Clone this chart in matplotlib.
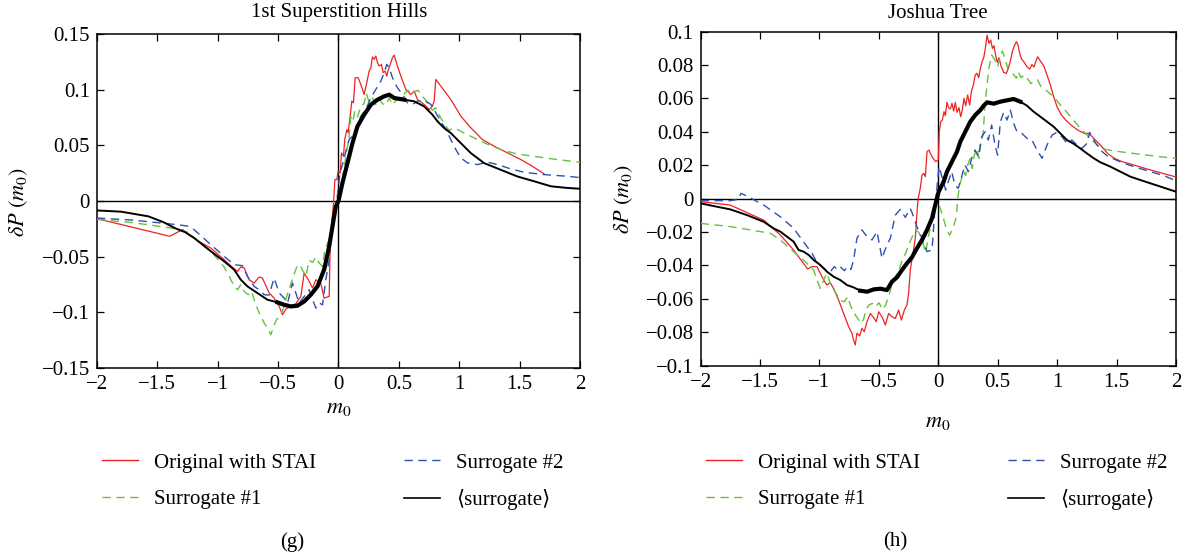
import numpy as np
import matplotlib
matplotlib.use("Agg")
import matplotlib.pyplot as plt
from matplotlib.ticker import FuncFormatter, MultipleLocator
from matplotlib.lines import Line2D

# ------------------------------
# Data (m0, deltaP)
# ------------------------------
# (g) 1st Superstition Hills
g_red = [(-2.0, -0.0159), (-1.397, -0.0317), (-1.292, -0.0257), (-1.157, -0.0362), (-1.057, -0.0423),
         (-0.947, -0.0527), (-0.864, -0.061), (-0.836, -0.0632), (-0.809, -0.0593), (-0.781, -0.0602),
         (-0.74, -0.0707), (-0.699, -0.0737), (-0.657, -0.0683), (-0.63, -0.0692), (-0.574, -0.0827),
         (-0.533, -0.0872), (-0.491, -0.0947), (-0.464, -0.1022), (-0.436, -0.0971), (-0.395, -0.0941),
         (-0.353, -0.0923), (-0.312, -0.0857), (-0.284, -0.0647), (-0.25, -0.0707), (-0.215, -0.0782),
         (-0.187, -0.0707), (-0.146, -0.0743), (-0.119, -0.0872), (-0.077, -0.0857), (-0.069, -0.0407),
         (-0.058, -0.0213), (-0.041, -0.0018), (-0.03, 0.0192), (-0.014, 0.0192), (-0.003, 0.0267),
         (0.014, 0.0252), (0.025, 0.0432), (0.041, 0.0402), (0.052, 0.0552), (0.069, 0.0642),
         (0.08, 0.0612), (0.097, 0.0762), (0.11, 0.0897), (0.124, 0.0882), (0.138, 0.1107),
         (0.163, 0.1107), (0.185, 0.1047), (0.212, 0.0957), (0.234, 0.1062), (0.254, 0.1167),
         (0.268, 0.1197), (0.281, 0.1294), (0.295, 0.1272), (0.309, 0.1302), (0.323, 0.1242),
         (0.337, 0.1212), (0.356, 0.1227), (0.37, 0.1152), (0.386, 0.1167), (0.4, 0.1122),
         (0.414, 0.1182), (0.433, 0.1242), (0.447, 0.1287), (0.461, 0.131), (0.488, 0.1212),
         (0.521, 0.1107), (0.558, 0.1002), (0.599, 0.0957), (0.627, 0.0987), (0.654, 0.0912),
         (0.709, 0.0867), (0.751, 0.0822), (0.778, 0.0852), (0.792, 0.0897), (0.806, 0.1092),
         (0.847, 0.1032), (0.93, 0.0912), (1.013, 0.0762), (1.096, 0.0657), (1.192, 0.0552),
         (1.289, 0.0492), (1.40, 0.0432), (1.51, 0.0372), (1.606, 0.0312), (1.703, 0.0243)]

g_green = [(-2.0, -0.0165), (-1.7, -0.0195), (-1.4, -0.024), (-1.25, -0.028), (-1.112, -0.0407),
           (-1.057, -0.0452), (-1.002, -0.0521), (-0.947, -0.0593), (-0.905, -0.0677), (-0.864, -0.0767),
           (-0.836, -0.0797), (-0.809, -0.0752), (-0.781, -0.0812), (-0.748, -0.0842), (-0.72, -0.0812),
           (-0.685, -0.0932), (-0.65, -0.1022), (-0.615, -0.1097), (-0.588, -0.1142), (-0.56, -0.1201),
           (-0.538, -0.1127), (-0.511, -0.1061), (-0.484, -0.1043), (-0.456, -0.0962), (-0.429, -0.0857),
           (-0.401, -0.0767), (-0.374, -0.0677), (-0.346, -0.0593), (-0.319, -0.0572), (-0.297, -0.0623),
           (-0.27, -0.0677), (-0.243, -0.0533), (-0.215, -0.0551), (-0.187, -0.0503), (-0.16, -0.0557),
           (-0.132, -0.0587), (-0.113, -0.0437), (-0.077, -0.0347), (-0.05, -0.0228), (-0.022, -0.0093),
           (0.006, 0.0027), (0.019, 0.0102), (0.047, 0.0296), (0.069, 0.0462), (0.085, 0.0552),
           (0.102, 0.0755), (0.119, 0.0716), (0.135, 0.0806), (0.157, 0.0755), (0.185, 0.0851),
           (0.212, 0.0875), (0.229, 0.097), (0.254, 0.0887), (0.281, 0.0926), (0.309, 0.0866),
           (0.337, 0.0917), (0.364, 0.0875), (0.392, 0.086), (0.42, 0.0926), (0.447, 0.0866),
           (0.483, 0.0911), (0.516, 0.0917), (0.549, 0.097), (0.577, 0.0994), (0.605, 0.0955),
           (0.632, 0.0985), (0.66, 0.0994), (0.687, 0.0946), (0.715, 0.0917), (0.751, 0.0851),
           (0.778, 0.0815), (0.806, 0.0836), (0.847, 0.0746), (0.889, 0.0671), (0.916, 0.0635),
           (0.958, 0.0656), (1.013, 0.0626), (1.096, 0.0581), (1.179, 0.0536), (1.262, 0.0497),
           (1.372, 0.0452), (1.482, 0.0422), (1.62, 0.0401), (1.759, 0.038), (2.0, 0.0347)]

g_blue = [(-2.0, -0.0153), (-1.7, -0.0172), (-1.45, -0.02), (-1.333, -0.0213), (-1.25, -0.0225),
          (-1.195, -0.0258), (-1.057, -0.0393), (-0.947, -0.0497), (-0.864, -0.0572), (-0.795, -0.0581),
          (-0.754, -0.0677), (-0.699, -0.0767), (-0.657, -0.0797), (-0.615, -0.0842), (-0.575, -0.0845),
          (-0.533, -0.0692), (-0.491, -0.0827), (-0.45, -0.0872), (-0.422, -0.0917), (-0.381, -0.0737),
          (-0.353, -0.0827), (-0.326, -0.0917), (-0.284, -0.0857), (-0.243, -0.0797), (-0.215, -0.0887),
          (-0.187, -0.0962), (-0.16, -0.0917), (-0.132, -0.0932), (-0.105, -0.0707), (-0.077, -0.0527),
          (-0.058, -0.0258), (-0.036, -0.0108), (-0.014, 0.0012), (0.0, 0.0132), (0.012, 0.0252),
          (0.033, 0.0327), (0.061, 0.0447), (0.088, 0.0552), (0.116, 0.0582), (0.143, 0.0648),
          (0.185, 0.0762), (0.226, 0.0822), (0.268, 0.0927), (0.309, 0.1002), (0.351, 0.1077),
          (0.378, 0.1152), (0.40, 0.1227), (0.42, 0.1197), (0.447, 0.1107), (0.488, 0.1017),
          (0.53, 0.0957), (0.571, 0.0882), (0.613, 0.0867), (0.654, 0.0897), (0.709, 0.0906),
          (0.765, 0.0867), (0.806, 0.0792), (0.847, 0.0717), (0.889, 0.0642), (0.93, 0.0552),
          (0.972, 0.0462), (1.013, 0.0387), (1.068, 0.0342), (1.151, 0.0327), (1.234, 0.0349),
          (1.317, 0.0327), (1.427, 0.0288), (1.537, 0.0258), (1.703, 0.0237), (1.896, 0.0222),
          (2.0, 0.021)]

g_black = [(-2.0, -0.0085), (-1.8, -0.0096), (-1.574, -0.0138), (-1.446, -0.0192), (-1.35, -0.0246),
           (-1.27, -0.028), (-1.195, -0.0333), (-1.057, -0.0452), (-0.947, -0.0542), (-0.864, -0.0617),
           (-0.809, -0.0707), (-0.754, -0.0767), (-0.671, -0.0827), (-0.588, -0.0887), (-0.505, -0.0911),
           (-0.45, -0.0932), (-0.395, -0.0947), (-0.34, -0.0941), (-0.284, -0.0902), (-0.229, -0.0842),
           (-0.174, -0.0767), (-0.119, -0.0617), (-0.077, -0.0407), (-0.05, -0.0228), (-0.022, -0.0048),
           (0.0, 0.0002), (0.033, 0.0163), (0.0745, 0.0341), (0.116, 0.0521), (0.157, 0.067),
           (0.2125, 0.0775), (0.268, 0.0865), (0.323, 0.091), (0.378, 0.094), (0.42, 0.0955),
           (0.461, 0.0925), (0.544, 0.091), (0.627, 0.0895), (0.709, 0.085), (0.778, 0.0775),
           (0.82, 0.0715), (0.875, 0.0655), (0.93, 0.061), (1.013, 0.052), (1.096, 0.043),
           (1.206, 0.034), (1.344, 0.028), (1.482, 0.022), (1.62, 0.0177), (1.759, 0.0132),
           (1.896, 0.0117), (2.0, 0.011)]

# (h) Joshua Tree
h_red = [(-2.0, -0.0018), (-1.751, -0.0038), (-1.47, -0.0128), (-1.33, -0.0217), (-1.218, -0.0307),
         (-1.10, -0.0421), (-1.063, -0.0407), (-1.021, -0.0407), (-0.993, -0.0447), (-0.965, -0.0487),
         (-0.937, -0.0517), (-0.909, -0.0503), (-0.875, -0.0547), (-0.839, -0.0607), (-0.797, -0.0687),
         (-0.755, -0.0766), (-0.727, -0.0806), (-0.713, -0.0846), (-0.699, -0.0876), (-0.685, -0.0806),
         (-0.662, -0.0822), (-0.643, -0.0776), (-0.623, -0.0796), (-0.60, -0.0736), (-0.572, -0.0687),
         (-0.55, -0.0707), (-0.522, -0.0736), (-0.502, -0.0677), (-0.474, -0.0707), (-0.446, -0.0756),
         (-0.418, -0.0687), (-0.39, -0.0707), (-0.362, -0.0717), (-0.334, -0.0667), (-0.311, -0.0727),
         (-0.286, -0.0667), (-0.264, -0.0637), (-0.25, -0.0567), (-0.236, -0.0427), (-0.213, -0.0327),
         (-0.194, -0.0238), (-0.174, -0.0028), (-0.166, 0.0012), (-0.152, 0.0062), (-0.137, 0.0142),
         (-0.123, 0.0152), (-0.109, 0.0132), (-0.095, 0.0281), (-0.079, 0.0291), (-0.062, 0.0265),
         (-0.045, 0.0242), (-0.022, 0.0222), (0.0, 0.0232), (0.008, 0.0401), (0.02, 0.0461),
         (0.034, 0.0471), (0.048, 0.0521), (0.059, 0.0497), (0.073, 0.0577), (0.087, 0.0545),
         (0.101, 0.0537), (0.115, 0.0571), (0.129, 0.0525), (0.143, 0.0577), (0.157, 0.0517),
         (0.174, 0.0545), (0.188, 0.0491), (0.202, 0.0531), (0.216, 0.0601), (0.23, 0.0557),
         (0.247, 0.0621), (0.264, 0.0561), (0.278, 0.0641), (0.295, 0.0681), (0.311, 0.0741),
         (0.325, 0.0751), (0.34, 0.0725), (0.354, 0.078), (0.368, 0.082), (0.382, 0.0844),
         (0.396, 0.09), (0.41, 0.098), (0.426, 0.093), (0.441, 0.095), (0.455, 0.09),
         (0.469, 0.0916), (0.483, 0.0856), (0.497, 0.0816), (0.511, 0.0844), (0.527, 0.0796),
         (0.55, 0.0756), (0.572, 0.075), (0.589, 0.078), (0.606, 0.0824), (0.623, 0.088),
         (0.64, 0.0916), (0.657, 0.094), (0.671, 0.092), (0.685, 0.087), (0.701, 0.0836),
         (0.724, 0.0816), (0.746, 0.079), (0.769, 0.0776), (0.788, 0.0804), (0.805, 0.0788),
         (0.822, 0.0824), (0.836, 0.085), (0.859, 0.0824), (0.887, 0.0796), (0.915, 0.074),
         (0.943, 0.0681), (0.971, 0.0611), (0.999, 0.0551), (1.033, 0.0505), (1.072, 0.0471),
         (1.117, 0.0441), (1.173, 0.0411), (1.229, 0.0391), (1.268, 0.0391), (1.313, 0.0357),
         (1.369, 0.0317), (1.425, 0.0271), (1.481, 0.0242), (1.546, 0.0222), (1.644, 0.0202),
         (1.756, 0.0178), (1.897, 0.015), (2.0, 0.013)]

h_green = [(-2.0, -0.0148), (-1.751, -0.0167), (-1.414, -0.0207), (-1.33, -0.0247), (-1.218, -0.0317),
           (-1.105, -0.0387), (-1.049, -0.0427), (-1.021, -0.0487), (-0.993, -0.0537), (-0.965, -0.0487),
           (-0.937, -0.0447), (-0.909, -0.0507), (-0.875, -0.0551), (-0.847, -0.0583), (-0.819, -0.0611),
           (-0.791, -0.0617), (-0.763, -0.0587), (-0.735, -0.0647), (-0.707, -0.0687), (-0.679, -0.0716),
           (-0.651, -0.0746), (-0.629, -0.0722), (-0.609, -0.0667), (-0.584, -0.0637), (-0.556, -0.0627),
           (-0.527, -0.0647), (-0.499, -0.0623), (-0.471, -0.0663), (-0.443, -0.0637), (-0.415, -0.0577),
           (-0.387, -0.0507), (-0.359, -0.0463), (-0.331, -0.0427), (-0.303, -0.0367), (-0.275, -0.0327),
           (-0.247, -0.0271), (-0.219, -0.0227), (-0.191, -0.0188), (-0.163, -0.0203), (-0.135, -0.0251),
           (-0.107, -0.0323), (-0.084, -0.0227), (-0.062, -0.0158), (-0.039, -0.0088), (-0.017, 0.0028),
           (0.011, -0.0048), (0.039, -0.0108), (0.067, -0.0178), (0.095, -0.0218), (0.123, -0.0178),
           (0.152, -0.0108), (0.163, 0.0002), (0.18, 0.0082), (0.196, 0.0122), (0.213, 0.0162),
           (0.23, 0.0138), (0.247, 0.0202), (0.269, 0.0242), (0.286, 0.0182), (0.303, 0.0261),
           (0.325, 0.0301), (0.342, 0.0242), (0.359, 0.0341), (0.376, 0.0381), (0.393, 0.0561),
           (0.41, 0.0681), (0.426, 0.078), (0.449, 0.086), (0.477, 0.083), (0.499, 0.079),
           (0.522, 0.0856), (0.539, 0.0884), (0.561, 0.084), (0.584, 0.078), (0.612, 0.0764),
           (0.64, 0.0737), (0.657, 0.0721), (0.673, 0.076), (0.696, 0.0725), (0.724, 0.0741),
           (0.752, 0.0717), (0.78, 0.0689), (0.808, 0.0705), (0.836, 0.0711), (0.864, 0.0671),
           (0.892, 0.0661), (0.92, 0.0641), (0.971, 0.0611), (1.027, 0.0561), (1.083, 0.0517),
           (1.139, 0.0469), (1.195, 0.0421), (1.251, 0.0381), (1.308, 0.0341), (1.364, 0.0305),
           (1.42, 0.0293), (1.532, 0.0281), (1.644, 0.0271), (1.756, 0.0261), (1.897, 0.0249),
           (2.0, 0.0242)]

h_blue = [(-2.0, -0.0012), (-1.751, -0.0012), (-1.681, -0.0004), (-1.661, 0.0032), (-1.611, 0.0016),
          (-1.47, -0.0038), (-1.33, -0.0108), (-1.218, -0.0177), (-1.105, -0.0287), (-1.063, -0.0327),
          (-1.021, -0.0383), (-0.979, -0.0407), (-0.943, -0.0427), (-0.909, -0.0437), (-0.875, -0.0407),
          (-0.847, -0.0427), (-0.819, -0.0411), (-0.791, -0.0431), (-0.763, -0.0407), (-0.735, -0.0423),
          (-0.713, -0.0367), (-0.685, -0.0237), (-0.643, -0.0187), (-0.60, -0.0227), (-0.558, -0.0247),
          (-0.516, -0.0197), (-0.474, -0.0357), (-0.438, -0.0287), (-0.404, -0.0237), (-0.362, -0.0098),
          (-0.32, -0.0064), (-0.278, -0.0112), (-0.236, -0.0058), (-0.208, -0.0108), (-0.18, -0.0168),
          (-0.137, -0.0237), (-0.095, -0.0317), (-0.053, -0.0307), (-0.025, -0.0028), (0.006, 0.0192),
          (0.034, 0.0122), (0.062, 0.0052), (0.084, 0.0102), (0.112, 0.0162), (0.14, 0.0082),
          (0.168, 0.0062), (0.196, 0.0132), (0.224, 0.0202), (0.253, 0.0162), (0.281, 0.0242),
          (0.309, 0.0291), (0.337, 0.0251), (0.365, 0.0371), (0.393, 0.0401), (0.421, 0.0351),
          (0.449, 0.0441), (0.477, 0.0321), (0.499, 0.0261), (0.522, 0.0461), (0.55, 0.0517),
          (0.578, 0.0471), (0.606, 0.0531), (0.634, 0.0451), (0.662, 0.0401), (0.704, 0.0391),
          (0.746, 0.0361), (0.788, 0.0351), (0.831, 0.0291), (0.873, 0.0242), (0.915, 0.0321),
          (0.957, 0.0381), (0.999, 0.0397), (1.041, 0.0371), (1.083, 0.0331), (1.125, 0.0351),
          (1.167, 0.0321), (1.209, 0.0301), (1.251, 0.0331), (1.274, 0.0397), (1.308, 0.0351),
          (1.364, 0.0291), (1.42, 0.0257), (1.476, 0.0238), (1.56, 0.0212), (1.672, 0.0186),
          (1.785, 0.0162), (1.897, 0.0138), (2.0, 0.0108)]

h_black = [(-2.0, -0.0028), (-1.891, -0.0044), (-1.751, -0.0064), (-1.611, -0.0098), (-1.47, -0.0138),
           (-1.386, -0.0178), (-1.33, -0.0197), (-1.274, -0.0227), (-1.218, -0.0257), (-1.176, -0.0307),
           (-1.134, -0.0317), (-1.091, -0.0337), (-1.049, -0.0367), (-0.993, -0.0397), (-0.937, -0.0437),
           (-0.881, -0.0467), (-0.825, -0.0487), (-0.769, -0.0517), (-0.713, -0.0531), (-0.657, -0.0551),
           (-0.60, -0.0557), (-0.544, -0.0543), (-0.488, -0.0539), (-0.432, -0.0547), (-0.39, -0.0497),
           (-0.348, -0.0471), (-0.306, -0.0427), (-0.264, -0.0387), (-0.222, -0.0351), (-0.18, -0.0297),
           (-0.137, -0.0247), (-0.095, -0.0187), (-0.053, -0.0117), (-0.025, -0.0035), (0.003, 0.0042),
           (0.045, 0.0102), (0.073, 0.0162), (0.115, 0.0222), (0.157, 0.0281), (0.185, 0.0341),
           (0.227, 0.0401), (0.269, 0.0461), (0.311, 0.0501), (0.354, 0.0531), (0.382, 0.0557),
           (0.41, 0.0577), (0.466, 0.0569), (0.522, 0.0581), (0.578, 0.0589), (0.634, 0.0597),
           (0.69, 0.0581), (0.746, 0.0557), (0.802, 0.0521), (0.859, 0.0491), (0.915, 0.0461),
           (0.971, 0.0431), (1.027, 0.0391), (1.083, 0.0351), (1.139, 0.0329), (1.195, 0.0301),
           (1.251, 0.0271), (1.308, 0.0242), (1.364, 0.0218), (1.448, 0.0192), (1.532, 0.0162),
           (1.616, 0.0132), (1.70, 0.0112), (1.785, 0.0092), (1.897, 0.0066), (2.0, 0.0042)]

labels = ["Original with STAI", "Surrogate #1", "Surrogate #2", "\u27e8surrogate\u27e9"]
titles = ["1st Superstition Hills", "Joshua Tree"]
panel_tags = ["(g)", "(h)"]

RED = "#ee2222"
GREEN = "#66c040"
BLUE = "#3050b0"

plt.rcParams['font.family'] = ['Liberation Serif', 'DejaVu Serif']
plt.rcParams['mathtext.fontset'] = 'stix'
FS = 15

fig = plt.figure(figsize=(11.9, 5.59), dpi=100)
ax_g = fig.add_axes([0.0815, 0.3417, 0.4059, 0.5975])
ax_h = fig.add_axes([0.5888, 0.3458, 0.3994, 0.5975])


def fmt(v, pos):
    v = round(v, 4) + 0.0
    return ("%g" % v).replace("-", "\u2212")


def draw(ax, red, green, blue, black, thick, ylim, ystep):
    ax.axhline(0, color="black", lw=1.0, zorder=1)
    ax.axvline(0, color="black", lw=1.0, zorder=1)
    x, y = np.array(red).T
    ax.plot(x, y, color=RED, lw=0.9, zorder=3)
    x, y = np.array(green).T
    ax.plot(x, y, color=GREEN, lw=1.0, dashes=(6, 4), zorder=3)
    x, y = np.array(blue).T
    ax.plot(x, y, color=BLUE, lw=1.0, dashes=(6, 4), zorder=3)
    x, y = np.array(black).T
    ax.plot(x, y, color="black", lw=1.4, zorder=4)
    # the averaged curve is noisy (thick) around the centre
    yc = np.where((x >= thick[0]) & (x <= thick[1]), y, np.nan)
    ax.plot(x, yc, color="black", lw=3.0, zorder=4)
    ax.set_xlim(-2, 2)
    ax.set_ylim(*ylim)
    ax.xaxis.set_major_locator(MultipleLocator(0.5))
    ax.yaxis.set_major_locator(MultipleLocator(ystep))
    ax.xaxis.set_major_formatter(FuncFormatter(fmt))
    ax.yaxis.set_major_formatter(FuncFormatter(fmt))
    ax.tick_params(direction="in", top=True, right=True, length=5, width=0.9,
                   labelsize=FS, pad=5)
    for s in ax.spines.values():
        s.set_linewidth(1.1)


draw(ax_g, g_red, g_green, g_blue, g_black, (-0.55, 0.55), (-0.15, 0.15), 0.05)
draw(ax_h, h_red, h_green, h_blue, h_black, (-0.7, 0.7), (-0.1, 0.1), 0.02)

W, H = 1190.0, 559.0


def fx(px):
    return px / W


def fy(py):
    return 1 - py / H


fig.text(fx(339), fy(13), titles[0], ha="center", va="center", fontsize=FS)
fig.text(fx(938), fy(13), titles[1], ha="center", va="center", fontsize=FS)
fig.text(fx(339), fy(409), r"$m_0$", ha="center", va="center", fontsize=FS + 1)
fig.text(fx(938), fy(423), r"$m_0$", ha="center", va="center", fontsize=FS + 1)
fig.text(fx(19), fy(202), r"$\delta P\ (m_0)$", ha="center", va="center",
         rotation=90, fontsize=FS + 1)
fig.text(fx(624), fy(199), r"$\delta P\ (m_0)$", ha="center", va="center",
         rotation=90, fontsize=FS + 1)
fig.text(fx(292), fy(542), panel_tags[0], ha="center", va="center", fontsize=FS)
fig.text(fx(895), fy(542), panel_tags[1], ha="center", va="center", fontsize=FS)

handles = [Line2D([], [], color=RED, lw=1.0),
           Line2D([], [], color=GREEN, lw=1.0, dashes=(6, 4)),
           Line2D([], [], color=BLUE, lw=1.0, dashes=(6, 4)),
           Line2D([], [], color="black", lw=1.2)]

for x0 in (102, 706):
    fig.legend(handles, labels, loc="upper left", bbox_to_anchor=(fx(x0), fy(453)),
               ncol=2, frameon=False, fontsize=FS, handlelength=1.75,
               handletextpad=0.75, columnspacing=4.2, labelspacing=0.8,
               borderpad=0, borderaxespad=0)

fig.savefig("out.png", dpi=100)
